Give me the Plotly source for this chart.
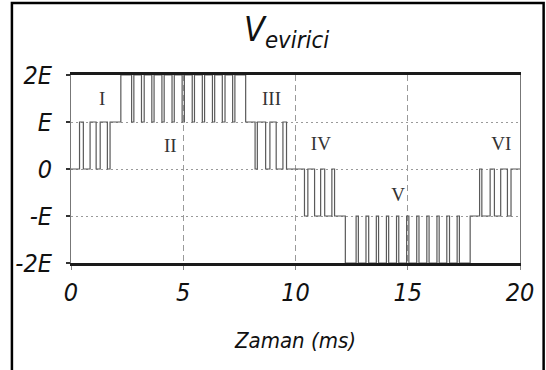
import plotly.graph_objects as go

# ---- data -----------------------------------------------------------------
# switching instants (ms) and the inverter output level held from each instant (units of E)
switch_times = [0.0, 0.38, 0.55, 0.85, 1.12, 1.30, 1.62, 1.74, 2.22,
                2.70, 2.80, 3.14, 3.26, 3.60, 3.70, 4.05, 4.15, 4.50, 4.60, 4.95, 5.05,
                5.40, 5.50, 5.85, 5.95, 6.30, 6.40, 6.74, 6.86, 7.20, 7.30, 7.78,
                8.20, 8.30, 8.67, 8.86, 9.14, 9.44, 9.60,
                10.40, 10.55, 10.85, 11.12, 11.30, 11.62, 11.74, 12.22,
                12.70, 12.80, 13.14, 13.26, 13.60, 13.70, 14.05, 14.15, 14.50, 14.60, 14.95, 15.05,
                15.40, 15.50, 15.85, 15.95, 16.30, 16.40, 16.74, 16.86, 17.20, 17.30, 17.78,
                18.20, 18.30, 18.67, 18.86, 19.14, 19.44, 19.60, 20.0]
levels = [0, 1, 0, 1, 0, 1, 0, 1, 2,
          1, 2, 1, 2, 1, 2, 1, 2, 1, 2, 1, 2,
          1, 2, 1, 2, 1, 2, 1, 2, 1, 2, 1,
          0, 1, 0, 1, 0, 1, 0,
          -1, 0, -1, 0, -1, 0, -1, -2,
          -1, -2, -1, -2, -1, -2, -1, -2, -1, -2, -1, -2,
          -1, -2, -1, -2, -1, -2, -1, -2, -1, -2, -1,
          0, -1, 0, -1, 0, -1, 0, 0]

y_tick_vals = [-2, -1, 0, 1, 2]
y_tick_text = ["-2E", "-E", "0", "E", "2E"]
x_tick_vals = [0, 5, 10, 15, 20]
x_tick_text = ["0", "5", "10", "15", "20"]

region_labels = ["I", "II", "III", "IV", "V", "VI"]
region_x = [1.39, 4.42, 8.93, 11.13, 14.57, 19.17]
region_y = [1.47, 0.46, 1.47, 0.51, -0.59, 0.51]

# ---- figure -----------------------------------------------------------------
W, H = 546, 370
L, R, T, B = 71, 19, 75, 107
pw, ph = W - L - R, H - T - B

narrow = "DejaVu Sans Condensed, Liberation Sans Narrow, sans-serif"

fig = go.Figure()
fig.add_trace(go.Scatter(x=switch_times, y=levels, mode="lines",
                         line=dict(shape="hv", color="#5a5a5a", width=1.2),
                         hoverinfo="skip", showlegend=False))

fig.add_trace(go.Scatter(x=region_x, y=region_y, mode="text", text=region_labels,
                         textfont=dict(family="Liberation Serif, Times New Roman, serif",
                                       size=19, color="#333333"),
                         hoverinfo="skip", showlegend=False))

# figure frame
fig.add_shape(type="rect", xref="paper", yref="paper",
              x0=(11 - L) / pw, x1=(551 - L) / pw,
              y0=(H - B - 390) / ph, y1=(H - B - 3) / ph,
              line=dict(color="black", width=2.5), fillcolor="rgba(0,0,0,0)")

fig.add_annotation(xref="paper", yref="paper",
                   x=(290 - L) / pw, y=(H - B - 31) / ph,
                   xanchor="center", yanchor="middle", showarrow=False,
                   text="V<sub>evirici</sub>",
                   font=dict(family=narrow, size=34, color="#111111", style="italic"))

fig.update_layout(
    width=W, height=H, margin=dict(l=L, r=R, t=T, b=B),
    paper_bgcolor="white", plot_bgcolor="white",
    showlegend=False,
)
fig.update_xaxes(range=[0, 20], tickvals=x_tick_vals, ticktext=x_tick_text,
                 showgrid=True, gridcolor="#9a9a9a", gridwidth=1, griddash="6px,4px",
                 showline=True, linecolor="#1a1a1a", linewidth=2.6, mirror=True,
                 ticks="outside", ticklen=4, tickcolor="#888888", tickwidth=1,
                 zeroline=False, ticklabelstandoff=1,
                 tickfont=dict(family=narrow, size=25, color="#111111", style="italic"),
                 title=dict(text="Zaman (ms)", standoff=27,
                            font=dict(family=narrow, size=22, color="#111111", style="italic")))
fig.update_yaxes(range=[-2, 2], tickvals=y_tick_vals, ticktext=y_tick_text,
                 showgrid=True, gridcolor="#9a9a9a", gridwidth=1, griddash="2px,3px",
                 showline=True, linecolor="#777777", linewidth=1, mirror=True,
                 ticks="outside", ticklen=4, tickcolor="#333333", tickwidth=1.5,
                 zeroline=False, ticklabelstandoff=9,
                 tickfont=dict(family=narrow, size=25, color="#111111", style="italic"))

fig.write_html("out.html")
